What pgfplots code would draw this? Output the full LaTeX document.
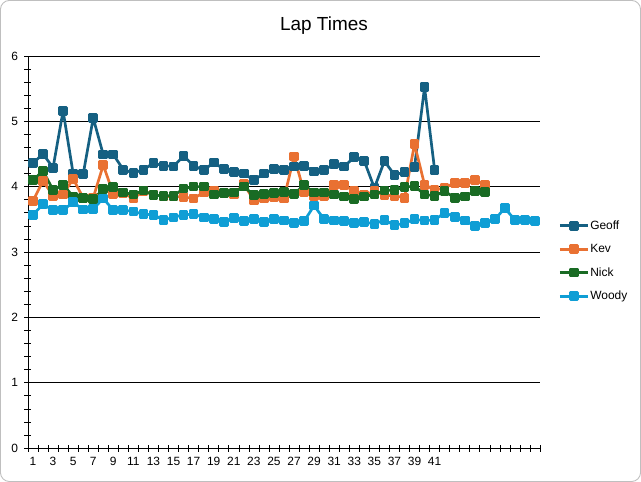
\documentclass[border=0pt]{standalone}
\usepackage{fontspec}
\setmainfont{Liberation Sans}
\usepackage{pgfplots}
\pgfplotsset{compat=1.18}
\definecolor{cGeoff}{HTML}{156082}
\definecolor{cKev}{HTML}{E97132}
\definecolor{cNick}{HTML}{196B24}
\definecolor{cWoody}{HTML}{0F9ED5}
\definecolor{frame}{HTML}{BFBFBF}
\begin{document}
\begin{tikzpicture}
\draw[frame, line width=0.9bp, rounded corners=9bp] (0.5bp,0.5bp) rectangle (640.5bp,481.5bp);
\node[font=\fontsize{19}{22}\selectfont] at (324bp,456bp) {Lap Times};
\begin{axis}[
  at={(28bp,34bp)}, anchor=south west,
  scale only axis, width=512bp, height=392bp,
  xmin=0.5, xmax=51.5, ymin=0, ymax=6,
  axis x line*=bottom, axis y line*=left,
  axis line style={-, black, line width=0.8bp},
  xtick={1,3,...,41},
  major x tick style={draw=none},
  minor xtick={0.5,1.5,...,51.5},
  ytick={0,1,...,6},
  minor y tick num=4,
  ymajorgrids, major grid style={black, line width=0.8bp},
  tick align=center,
  major tick length=7bp, minor tick length=7bp,
  tick style={black, line width=0.6bp},
  tick label style={font=\fontsize{12}{14}\selectfont},
  yticklabel style={xshift=-3bp},
  xticklabel style={yshift=-2bp},
  /pgf/number format/assume math mode=true,
  clip=false,
  legend style={at={(1.03,0.477)}, anchor=west, draw=none, fill=none,
    font=\fontsize{12}{14}\selectfont, row sep=11.5bp,
    nodes={inner sep=1bp}},
  legend cell align=left,
  legend image code/.code={\draw[mark repeat=2,mark phase=2] plot coordinates {(0bp,0bp) (14bp,0bp) (28bp,0bp)};},
  every axis plot/.append style={line width=2.7bp, line join=round, mark=square*, mark size=3.5bp, mark options={solid, line width=0.4bp}},
]
\addplot[cGeoff, mark options={fill=cGeoff}] table {
x y
1 4.36
2 4.50
3 4.29
4 5.16
5 4.20
6 4.19
7 5.05
8 4.49
9 4.49
10 4.26
11 4.21
12 4.26
13 4.36
14 4.32
15 4.31
16 4.47
17 4.32
18 4.25
19 4.37
20 4.27
21 4.22
22 4.20
23 4.10
24 4.20
25 4.27
26 4.26
27 4.31
28 4.32
29 4.23
30 4.25
31 4.35
32 4.31
33 4.45
34 4.39
35 3.98
36 4.39
37 4.18
38 4.22
39 4.30
40 5.52
41 4.26
};
\addlegendentry{Geoff}
\addplot[cKev, mark options={fill=cKev}] table {
x y
1 3.78
2 4.09
3 3.86
4 3.88
5 4.12
6 3.83
7 3.83
8 4.33
9 3.89
10 3.90
11 3.82
12 3.93
13 3.88
14 3.85
15 3.85
16 3.84
17 3.82
18 3.91
19 3.94
20 3.90
21 3.88
22 4.04
23 3.79
24 3.82
25 3.84
26 3.82
27 4.46
28 3.92
29 3.86
30 3.86
31 4.02
32 4.02
33 3.93
34 3.87
35 3.93
36 3.87
37 3.86
38 3.83
39 4.65
40 4.03
41 3.95
42 3.98
43 4.06
44 4.06
45 4.10
46 4.03
};
\addlegendentry{Kev}
\addplot[cNick, mark options={fill=cNick}] table {
x y
1 4.10
2 4.24
3 3.95
4 4.03
5 3.85
6 3.83
7 3.81
8 3.96
9 3.99
10 3.91
11 3.88
12 3.94
13 3.87
14 3.86
15 3.86
16 3.97
17 4.00
18 4.00
19 3.88
20 3.90
21 3.91
22 4.00
23 3.87
24 3.89
25 3.90
26 3.92
27 3.89
28 4.02
29 3.91
30 3.91
31 3.88
32 3.85
33 3.81
34 3.85
35 3.88
36 3.94
37 3.95
38 3.99
39 4.01
40 3.88
41 3.86
42 3.93
43 3.83
44 3.85
45 3.93
46 3.92
};
\addlegendentry{Nick}
\addplot[cWoody, mark options={fill=cWoody}] table {
x y
1 3.57
2 3.73
3 3.64
4 3.64
5 3.76
6 3.65
7 3.66
8 3.82
9 3.64
10 3.64
11 3.62
12 3.58
13 3.57
14 3.49
15 3.53
16 3.57
17 3.58
18 3.53
19 3.51
20 3.46
21 3.52
22 3.47
23 3.50
24 3.46
25 3.51
26 3.48
27 3.44
28 3.47
29 3.71
30 3.50
31 3.48
32 3.47
33 3.44
34 3.46
35 3.43
36 3.49
37 3.41
38 3.44
39 3.50
40 3.48
41 3.49
42 3.60
43 3.54
44 3.48
45 3.40
46 3.44
47 3.50
48 3.67
49 3.49
50 3.49
51 3.47
};
\addlegendentry{Woody}
\end{axis}
\end{tikzpicture}
\end{document}
